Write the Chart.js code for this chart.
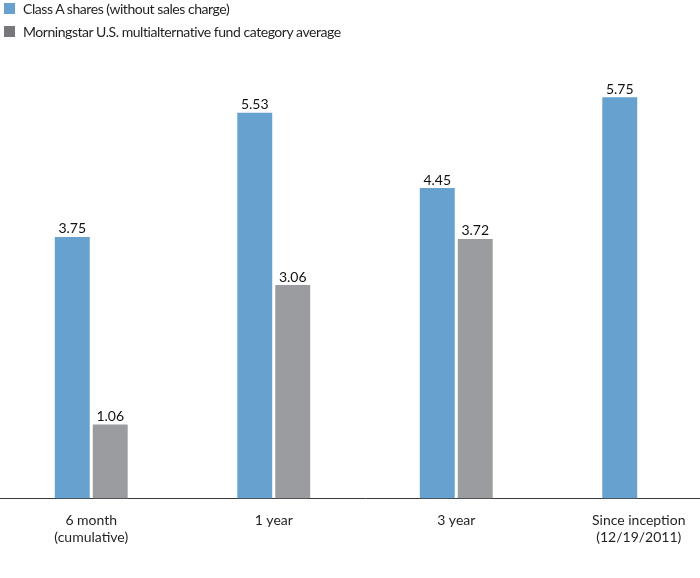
<!DOCTYPE html>
<html>
<head>
<meta charset="utf-8">
<script src="https://cdn.jsdelivr.net/npm/chart.js@4.4.1/dist/chart.umd.min.js"></script>
<style>
    html, body { margin: 0; padding: 0; background: #fff; }
    #wrap { position: relative; width: 700px; height: 578px; overflow: hidden; }
    #legend { position: absolute; left: 4px; top: -3px; font-family: Lato, sans-serif; font-size: 14px; letter-spacing: -0.45px; color: #231f20; }
    #legend div { height: 23px; line-height: 18px; display: flex; align-items: center; }
    #legend span.box { width: 11px; height: 11px; margin-right: 8px; display: inline-block; }
</style>
</head>
<body>
<div id="wrap">
    <canvas id="chart" width="730" height="578"></canvas>
    <div id="legend"></div>
</div>
<script>
const categories = [['6 month', '(cumulative)'], '1 year', '3 year', ['Since inception', '(12/19/2011)']];
const classA = [3.75, 5.53, 4.45, 5.75];
const categoryAvg = [1.06, 3.06, 3.72, null];
const seriesNames = ['Class A shares (without sales charge)', 'Morningstar U.S. multialternative fund category average'];

const blue = '#66a1cf';
const gray = '#9b9c9f';
const legendGray = '#76777a';
const textFont = 'Lato, sans-serif';

// value labels above each bar
const barLabels = {
    id: 'barLabels',
    afterDatasetsDraw(chart) {
        const ctx = chart.ctx;
        ctx.save();
        ctx.font = '14px ' + textFont;
        ctx.fillStyle = '#111';
        ctx.textAlign = 'center';
        ctx.textBaseline = 'bottom';
        chart.data.datasets.forEach((ds, i) => {
            chart.getDatasetMeta(i).data.forEach((bar, j) => {
                const v = ds.data[j];
                if (v === null) return;
                ctx.fillText(v.toFixed(2), bar.x, bar.y - 1);
            });
        });
        ctx.restore();
    }
};

const chart = new Chart(document.getElementById('chart'), {
    type: 'bar',
    data: {
        labels: categories,
        datasets: [
            {
                label: seriesNames[0],
                data: classA,
                backgroundColor: blue,
                categoryPercentage: 0.416,
                barPercentage: 0.92,
            },
            {
                label: seriesNames[1],
                data: categoryAvg,
                backgroundColor: gray,
                categoryPercentage: 0.416,
                barPercentage: 0.92,
            },
        ],
    },
    options: {
        responsive: false,
        animation: false,
        layout: {
            padding: {top: 45, left: 0, right: 0, bottom: 19},
        },
        scales: {
            y: {
                display: false,
                min: 0,
                max: 6.5,
            },
            x: {
                grid: {display: false, drawTicks: false},
                border: {display: true, color: '#3a3a3a', width: 1},
                ticks: {
                    color: '#231f20',
                    padding: 13,
                    maxRotation: 0,
                    font: {family: textFont, size: 14, lineHeight: 1.23},
                },
            },
        },
        plugins: {
            legend: {display: false},
            tooltip: {enabled: false},
        },
    },
    plugins: [barLabels],
});

const legendEl = document.getElementById('legend');
[blue, legendGray].forEach((c, i) => {
    const row = document.createElement('div');
    row.innerHTML = '<span class="box" style="background:' + c + '"></span>' + seriesNames[i];
    legendEl.appendChild(row);
});
</script>
</body>
</html>
